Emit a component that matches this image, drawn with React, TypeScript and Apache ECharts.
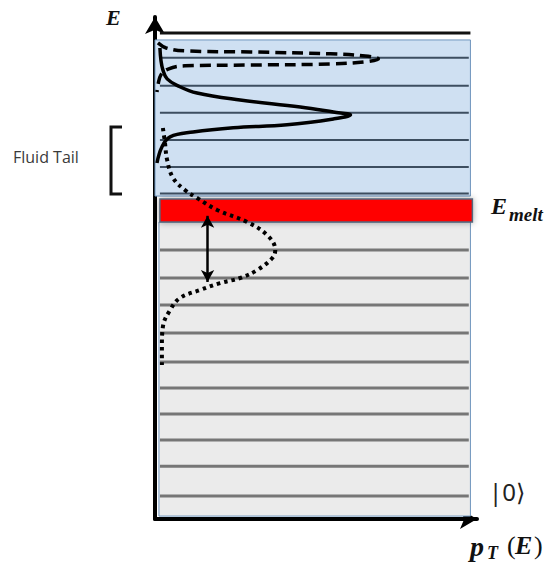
import React, { useEffect, useRef } from "react";
import * as echarts from "echarts";

// Energy levels (arbitrary units) in the liquid-like (upper) and solid-like (lower) regions
const liquidLevels = [12.2, 13.19, 14.2, 15.22, 16.23, 17.28];
const solidLevels = [0.86, 1.98, 2.96, 3.93, 4.91, 5.88, 6.97, 8.02, 9.03, 10.08];
const topLevel = 18.21;
const levelSpan = [0.015, 0.955];

// Shaded regions [pMin, pMax, eMin, eMax]
const liquidRegion = [0, 0.96, 12.1, 17.95];
const solidRegion = [0.012, 0.96, 0.11, 11.13];
const meltBand = [0.015, 0.966, 11.13, 11.99];

// Distributions p_T(E) as [p, E] pairs
const lowTCurve: [number, number][] = [
  [0.024, 14.65], [0.03, 14.13], [0.037, 13.45], [0.055, 12.78], [0.091, 12.33],
  [0.128, 12.03], [0.189, 11.58], [0.28, 11.13], [0.341, 10.64], [0.366, 10.08],
  [0.357, 9.78], [0.311, 9.33], [0.259, 9.03], [0.198, 8.84], [0.137, 8.58],
  [0.076, 8.28], [0.046, 7.83], [0.024, 7.2], [0.021, 6.45], [0.021, 5.77],
];
const midTCurve: [number, number][] = [
  [0.015, 17.65], [0.018, 17.2], [0.024, 16.83], [0.037, 16.49], [0.07, 16.23],
  [0.128, 15.96], [0.259, 15.7], [0.442, 15.44], [0.543, 15.25], [0.595, 15.14],
  [0.543, 14.99], [0.402, 14.77], [0.238, 14.66], [0.116, 14.5], [0.046, 14.32],
  [0.021, 13.94], [0.006, 13.34],
];
const highTCurve: [number, number][] = [
  [0.009, 17.84], [0.034, 17.65], [0.091, 17.54], [0.29, 17.5], [0.534, 17.43],
  [0.64, 17.35], [0.68, 17.24], [0.64, 17.13], [0.534, 17.05], [0.29, 17.01],
  [0.091, 16.98], [0.04, 16.86], [0.018, 16.64], [0.009, 16.26], [0.006, 16.0],
];

// Gap between melting point and the peak of the low-T distribution
const gapArrow = { p: 0.16, from: 11.36, to: 8.88 };

const SERIF = '"Liberation Serif", "DejaVu Serif", serif';
const SANS = '"Noto Sans", "DejaVu Sans", sans-serif';

const mathText = (text: string, x: number, y: number, size: number, italic = true) => ({
  type: "text",
  x,
  y,
  style: {
    text,
    fontSize: size,
    fontFamily: SERIF,
    fontWeight: italic ? "bold" : "normal",
    fontStyle: italic ? "italic" : "normal",
    fill: "#111",
    verticalAlign: "top",
  },
});

export default function App() {
  const ref = useRef<HTMLDivElement>(null);

  useEffect(() => {
    if (!ref.current) return;
    const chart = echarts.init(ref.current, null, { renderer: "svg" });

    const regionData = [
      [...liquidRegion, 0],
      [...solidRegion, 1],
    ];
    const levelData = [
      ...liquidLevels.map((e) => [levelSpan[0], levelSpan[1], e, 0]),
      ...solidLevels.map((e) => [levelSpan[0], levelSpan[1], e, 1]),
      [levelSpan[0], 0.96, topLevel, 2],
    ];

    const axisLine = (max: number) => ({
      type: "value",
      min: 0,
      max,
      axisLine: {
        show: true,
        onZero: false,
        symbol: ["none", "arrow"],
        symbolSize: [15, 17],
        lineStyle: { color: "#000", width: 4 },
      },
      axisTick: { show: false },
      axisLabel: { show: false },
      splitLine: { show: false },
    });

    chart.setOption({
      animation: false,
      grid: { left: 155, right: 78, top: 17, bottom: 47 },
      xAxis: axisLine(0.98),
      yAxis: axisLine(18.81),
      series: [
        {
          type: "custom",
          z: 1,
          data: regionData,
          encode: { x: [0, 1], y: [2, 3] },
          renderItem: (_p: any, api: any) => {
            const a = api.coord([api.value(0), api.value(3)]);
            const b = api.coord([api.value(1), api.value(2)]);
            const kind = api.value(4);
            return {
              type: "rect",
              shape: { x: a[0], y: a[1], width: b[0] - a[0], height: b[1] - a[1] },
              style: {
                fill: kind === 0 ? "#cfe0f2" : "#ebebeb",
                stroke: "#6f95bd",
                lineWidth: 1,
              },
            };
          },
        },
        {
          type: "custom",
          z: 2,
          data: levelData,
          encode: { x: [0, 1], y: 2 },
          renderItem: (_p: any, api: any) => {
            const a = api.coord([api.value(0), api.value(2)]);
            const b = api.coord([api.value(1), api.value(2)]);
            const kind = api.value(3);
            const color = kind === 0 ? "#3d4e60" : kind === 1 ? "#767676" : "#111";
            const width = kind === 0 ? 2 : 3;
            return {
              type: "line",
              shape: { x1: a[0], y1: a[1], x2: b[0], y2: b[1] },
              style: { stroke: color, lineWidth: width },
            };
          },
        },
        {
          type: "custom",
          z: 3,
          data: [meltBand],
          encode: { x: [0, 1], y: [2, 3] },
          renderItem: (_p: any, api: any) => {
            const a = api.coord([api.value(0), api.value(3)]);
            const b = api.coord([api.value(1), api.value(2)]);
            return {
              type: "rect",
              shape: { x: a[0], y: a[1], width: b[0] - a[0], height: b[1] - a[1] },
              style: {
                fill: "#ff0000",
                stroke: "#56687c",
                lineWidth: 1.5,
                shadowBlur: 6,
                shadowColor: "rgba(0,0,0,0.35)",
              },
            };
          },
        },
        {
          type: "line",
          z: 5,
          data: lowTCurve,
          smooth: 0.4,
          showSymbol: false,
          clip: false,
          lineStyle: { color: "#000", width: 4, type: [3.5, 4], cap: "butt" },
          markLine: {
            silent: true,
            symbol: ["arrow", "arrow"],
            symbolSize: [10, 12],
            label: { show: false },
            lineStyle: { color: "#000", width: 2.5, type: "solid" },
            data: [[{ coord: [gapArrow.p, gapArrow.from] }, { coord: [gapArrow.p, gapArrow.to] }]],
          },
        },
        {
          type: "line",
          z: 5,
          data: midTCurve,
          smooth: 0.4,
          showSymbol: false,
          clip: false,
          lineStyle: { color: "#000", width: 3.5 },
        },
        {
          type: "line",
          z: 5,
          data: highTCurve,
          smooth: 0.4,
          showSymbol: false,
          clip: false,
          lineStyle: { color: "#000", width: 3.5, type: [11, 6], cap: "butt" },
        },
      ],
      graphic: [
        mathText("E", 106, 6, 22),
        mathText("E", 491, 194, 24),
        mathText("melt", 509, 205, 19),
        {
          type: "text",
          x: 489,
          y: 479,
          style: {
            text: "|0⟩",
            fontSize: 24,
            fontFamily: SANS,
            fill: "#222",
            verticalAlign: "top",
          },
        },
        mathText("p", 470, 532, 28),
        mathText("T", 487, 544, 18),
        mathText("(", 507, 532, 26, false),
        mathText("E", 515, 532, 26),
        mathText(")", 534, 532, 26, false),
        {
          type: "text",
          x: 13,
          y: 149,
          style: {
            text: "Fluid Tail",
            fontSize: 16,
            fontFamily: '"Open Sans", sans-serif',
            fill: "#3a3a3a",
            verticalAlign: "top",
          },
        },
        {
          type: "polyline",
          shape: { points: [[122, 127], [111, 127], [111, 194], [122, 194]] },
          style: { stroke: "#111", lineWidth: 3, fill: "none" },
        },
      ],
    });

    return () => chart.dispose();
  }, []);

  return (
    <div
      ref={ref}
      style={{ position: "absolute", left: 0, top: 0, width: 555, height: 566 }}
    />
  );
}
